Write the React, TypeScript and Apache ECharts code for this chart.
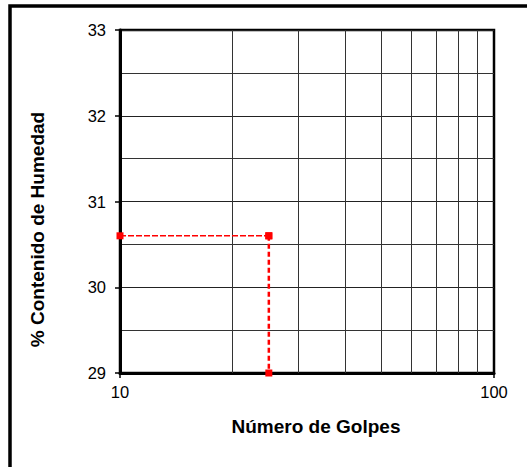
import React, { useEffect, useRef } from "react";
import * as echarts from "echarts";

const xMin = 10;
const xMax = 100;
const yMin = 29;
const yMax = 33;
const verticalGridValues = [20, 30, 40, 50, 60, 70, 80, 90];
const horizGolpes = [10, 25];
const horizHumedad = [30.6, 30.6];
const vertGolpes = [25, 25];
const vertHumedad = [30.6, 29];

const FONT = "'Liberation Sans', Arial, sans-serif";

export default function App() {
  const ref = useRef<HTMLDivElement>(null);
  useEffect(() => {
    const chart = echarts.init(ref.current!, null, { renderer: "svg" });
    const red = "#ff0000";
    chart.setOption({
      animation: false,
      backgroundColor: "#ffffff",
      textStyle: { fontFamily: FONT },
      graphic: [
        {
          type: "rect",
          shape: { x: 10, y: 6, width: 600, height: 600 },
          style: { fill: "none", stroke: "#000", lineWidth: 3.5 },
          silent: true,
          z: 100,
        },
      ],
      grid: {
        left: 120,
        top: 30,
        right: 33,
        bottom: 94,
        show: true,
        borderColor: "#000",
        borderWidth: 2.5,
        backgroundColor: "transparent",
      },
      xAxis: {
        type: "log",
        logBase: 10,
        min: xMin,
        max: xMax,
        name: "Número de Golpes",
        nameLocation: "middle",
        nameGap: 44,
        nameTextStyle: {
          fontFamily: FONT,
          fontWeight: "bold",
          fontSize: 19,
          color: "#000",
          padding: [0, 0, 0, 18],
        },
        axisLine: { show: true, onZero: false, lineStyle: { color: "#000", width: 3 } },
        axisTick: { show: true, length: 5, lineStyle: { color: "#000", width: 1.5 } },
        axisLabel: { fontFamily: FONT, fontSize: 16.5, color: "#000", margin: 10 },
        splitLine: { show: false },
        minorTick: { show: false },
        minorSplitLine: { show: false },
      },
      yAxis: {
        type: "value",
        min: yMin,
        max: yMax,
        interval: 1,
        name: "% Contenido de Humedad",
        nameLocation: "middle",
        nameGap: 73,
        nameTextStyle: {
          fontFamily: FONT,
          fontWeight: "bold",
          fontSize: 19,
          color: "#000",
          padding: [0, 56, 0, 0],
        },
        axisLine: { show: true, lineStyle: { color: "#000", width: 3 } },
        axisTick: { show: true, length: 5, lineStyle: { color: "#000", width: 1.5 } },
        axisLabel: { fontFamily: FONT, fontSize: 16.5, color: "#000", margin: 14 },
        splitLine: { show: true, lineStyle: { color: "#222", width: 1 } },
        minorTick: { show: false, splitNumber: 2 },
        minorSplitLine: { show: true, lineStyle: { color: "#333", width: 1 } },
      },
      series: [
        {
          type: "line",
          data: [],
          silent: true,
          markLine: {
            silent: true,
            symbol: "none",
            label: { show: false },
            lineStyle: { color: "#333", width: 1, type: "solid" },
            data: verticalGridValues.map((v) => ({ xAxis: v })),
          },
        },
        {
          type: "line",
          clip: false,
          data: horizGolpes.map((x, i) => [x, horizHumedad[i]]),
          symbol: "rect",
          symbolSize: 7,
          itemStyle: { color: red },
          lineStyle: { color: red, width: 1.5, type: [6, 2] },
          z: 5,
        },
        {
          type: "line",
          clip: false,
          data: vertGolpes.map((x, i) => [x, vertHumedad[i]]),
          symbol: "rect",
          symbolSize: 7,
          itemStyle: { color: red },
          lineStyle: { color: red, width: 2.5, type: [5, 3] },
          z: 5,
        },
      ],
    });
    return () => chart.dispose();
  }, []);
  return (
    <div
      ref={ref}
      style={{ position: "fixed", left: 0, top: 0, width: 527, height: 467 }}
    />
  );
}
